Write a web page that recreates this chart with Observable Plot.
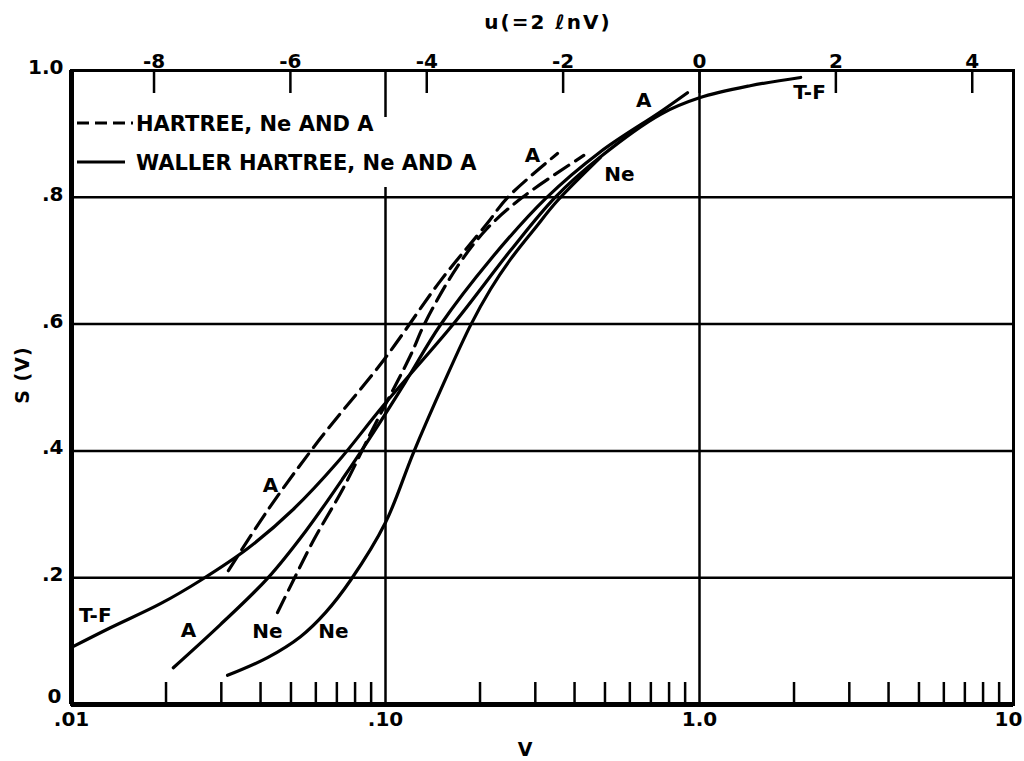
<!DOCTYPE html>
<html><head><meta charset="utf-8">
<script src="https://cdn.jsdelivr.net/npm/d3@7"></script>
<script src="https://cdn.jsdelivr.net/npm/@observablehq/plot@0.6"></script>
<style>
html,body{margin:0;padding:0;background:#fff;}
#chart{position:relative;width:1024px;height:761px;overflow:hidden;}
</style></head><body><div id="chart"></div>
<script>
// ---- Data ----
// Thomas-Fermi curve
const tfV = [0.010, 0.0133, 0.0192, 0.0258, 0.0364, 0.0509, 0.0703, 0.0986, 0.165, 0.250, 0.347, 0.484, 0.752, 1.00, 1.45, 2.10];
const tfS = [0.090, 0.121, 0.159, 0.196, 0.246, 0.308, 0.382, 0.472, 0.601, 0.716, 0.800, 0.864, 0.931, 0.957, 0.976, 0.989];
// Waller-Hartree, A (solid)
const whAV = [0.0211, 0.0298, 0.0421, 0.0556, 0.0735, 0.0929, 0.1158, 0.1497, 0.216, 0.3233, 0.4838, 0.7514, 0.9158];
const whAS = [0.058, 0.126, 0.199, 0.273, 0.358, 0.434, 0.509, 0.599, 0.702, 0.798, 0.872, 0.935, 0.965];
// Waller-Hartree, Ne (solid)
const whNeV = [0.0314, 0.0421, 0.0536, 0.0644, 0.0774, 0.100, 0.1227, 0.153, 0.1865, 0.216, 0.250, 0.3003, 0.3504, 0.4838];
const whNeS = [0.046, 0.074, 0.107, 0.145, 0.196, 0.287, 0.397, 0.506, 0.598, 0.655, 0.702, 0.752, 0.793, 0.863];
// Hartree, A (dashed)
const hAV = [0.0316, 0.0421, 0.0612, 0.0986, 0.150, 0.211, 0.245, 0.353];
const hAS = [0.211, 0.306, 0.416, 0.543, 0.669, 0.759, 0.800, 0.869];
// Hartree, Ne (dashed)
const hNeV = [0.0453, 0.0509, 0.0590, 0.0735, 0.0916, 0.120, 0.133, 0.169, 0.210, 0.273, 0.428];
const hNeS = [0.145, 0.196, 0.259, 0.342, 0.437, 0.550, 0.600, 0.690, 0.750, 0.800, 0.866];

// Curve labels
const labelText = ["T-F", "A", "Ne", "Ne", "A", "A", "Ne", "A", "T-F"];
const labelV = [0.0119, 0.0236, 0.0421, 0.0683, 0.0430, 0.294, 0.556, 0.664, 2.24];
const labelS = [0.140, 0.117, 0.115, 0.115, 0.345, 0.866, 0.836, 0.953, 0.965];

// Axes / ticks
const majorV = [0.01, 0.1, 1, 10];
const majorLabels = [".01", ".10", "1.0", "10"];
const minorV = [0.02,0.03,0.04,0.05,0.06,0.07,0.08,0.09, 0.2,0.3,0.4,0.5,0.6,0.7,0.8,0.9, 2,3,4,5,6,7,8,9];
const gridV = [0.1, 1];
const sTicks = [0, 0.2, 0.4, 0.6, 0.8, 1.0];
const sLabels = ["0", ".2", ".4", ".6", ".8", "1.0"];
const gridS = [0.2, 0.4, 0.6, 0.8];
const uTicks = [-8, -6, -4, -2, 0, 2, 4];

// ---- Build ----
const toRows = (V, S) => V.map((v, i) => ({V: v, S: S[i]}));
const W = 1024, H = 761, mL = 71, mR = 11, mT = 70, mB = 57;
const innerH = H - mT - mB;
const FONT = "'DejaVu Sans', 'Liberation Sans', sans-serif";
const uToV = u => Math.exp(u / 2);

const lineOpts = {x: "V", y: "S", curve: "catmull-rom", strokeWidth: 3.2, stroke: "black"};
const dashOpts = {...lineOpts, strokeDasharray: "17,8"};
const txt = {fontSize: 20, fontWeight: "bold", fill: "black"};
const sLab = d => sLabels[sTicks.indexOf(d)];

const plot = Plot.plot({
  width: W, height: H,
  marginLeft: mL, marginRight: mR, marginTop: mT, marginBottom: mB,
  style: {fontFamily: FONT, fontWeight: "bold", fontSize: "20px", background: "white", color: "black"},
  x: {type: "log", domain: [0.01, 10], axis: null},
  y: {domain: [0, 1], axis: null},
  marks: [
    Plot.ruleX(gridV, {strokeWidth: 2.5}),
    Plot.ruleY(gridS, {strokeWidth: 2.5}),
    Plot.tickX(minorV, {x: d => d, insetTop: innerH - 22, strokeWidth: 2.5}),
    Plot.tickX(uTicks, {x: uToV, insetBottom: innerH - 23, strokeWidth: 2.5}),
    Plot.frame({strokeWidth: 3}),
    Plot.ruleX([0.01], {strokeWidth: 5}),
    Plot.ruleY([0], {strokeWidth: 5}),
    Plot.line(toRows(tfV, tfS), lineOpts),
    Plot.line(toRows(whAV, whAS), lineOpts),
    Plot.line(toRows(whNeV, whNeS), lineOpts),
    Plot.line(toRows(hAV, hAS), dashOpts),
    Plot.line(toRows(hNeV, hNeS), dashOpts),
    Plot.text(labelText.map((t, i) => ({t, V: labelV[i], S: labelS[i]})),
      {x: "V", y: "S", text: "t", ...txt}),
    // bottom V labels
    Plot.text(majorV.slice(0, 3), {x: d => d, frameAnchor: "bottom", dy: 21,
      text: d => majorLabels[majorV.indexOf(d)], ...txt}),
    Plot.text(majorV.slice(3), {x: d => d, frameAnchor: "bottom", dy: 21, dx: -5,
      text: d => majorLabels[majorV.indexOf(d)], ...txt}),
    // top u labels
    Plot.text(uTicks, {x: uToV, frameAnchor: "top", dy: -17, text: u => String(u), ...txt}),
    // left S labels
    Plot.text(sTicks.slice(1), {y: d => d, frameAnchor: "left", dx: -8, dy: -3, textAnchor: "end", text: sLab, ...txt}),
    Plot.text(sTicks.slice(0, 1), {y: d => d, frameAnchor: "left", dx: -10, dy: -8, textAnchor: "end", text: sLab, ...txt})
  ]
});

document.getElementById("chart").appendChild(plot);

// ---- Titles and legend ----
const svg = d3.select(plot);
const g = svg.append("g").attr("font-family", FONT).attr("font-weight", "bold").attr("fill", "black");
g.append("text").attr("x", 548).attr("y", 22).attr("dy", "0.35em").attr("text-anchor", "middle")
  .attr("font-size", 20).attr("letter-spacing", 2).text("u(=2 \u2113nV)");
g.append("text").attr("x", 525).attr("y", 749).attr("dy", "0.35em").attr("text-anchor", "middle")
  .attr("font-size", 19).text("V");
g.append("text").attr("transform", "translate(22,375) rotate(-90)").attr("dy", "0.35em")
  .attr("text-anchor", "middle").attr("font-size", 19).attr("letter-spacing", 1).text("S (V)");

const leg = svg.append("g").attr("font-family", FONT).attr("font-weight", "bold");
leg.append("rect").attr("x", 74).attr("y", 117).attr("width", 408).attr("height", 70).attr("fill", "white");
leg.append("line").attr("x1", 77).attr("x2", 133).attr("y1", 123).attr("y2", 123)
  .attr("stroke", "black").attr("stroke-width", 3).attr("stroke-dasharray", "12,6");
leg.append("text").attr("x", 136).attr("y", 123).attr("dy", "0.36em").attr("font-size", 21)
  .attr("text-anchor", "start").attr("fill", "black").text("HARTREE, Ne AND A");
leg.append("line").attr("x1", 77).attr("x2", 125).attr("y1", 162).attr("y2", 162)
  .attr("stroke", "black").attr("stroke-width", 3);
leg.append("text").attr("x", 136).attr("y", 162).attr("dy", "0.36em").attr("font-size", 21)
  .attr("text-anchor", "start").attr("fill", "black").text("WALLER HARTREE, Ne AND A");
</script>
</body></html>
